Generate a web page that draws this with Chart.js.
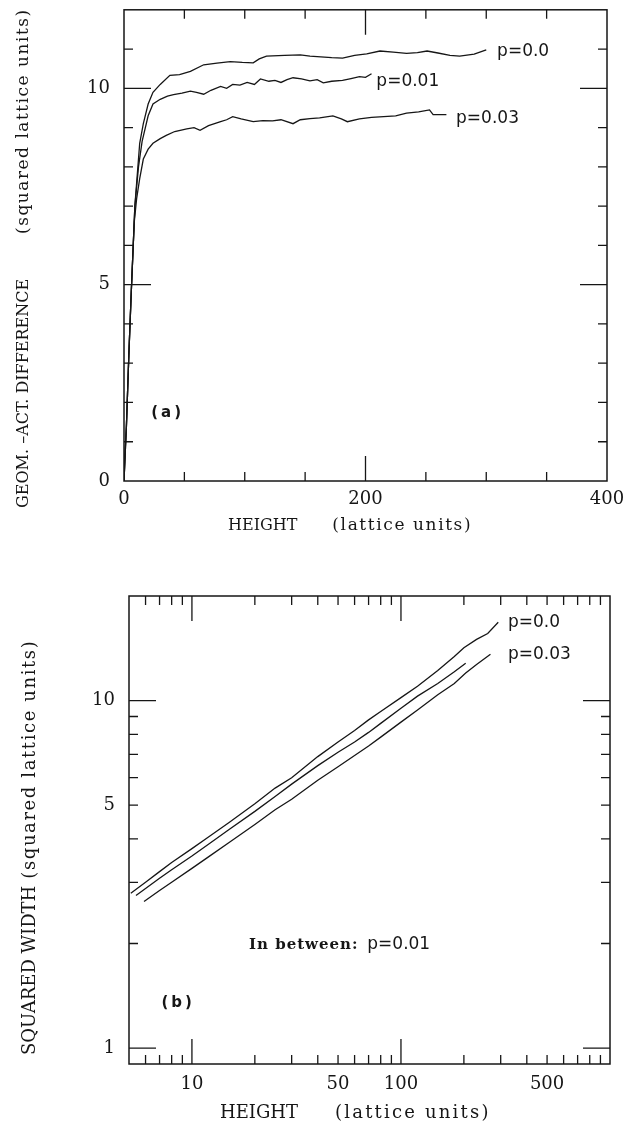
<!DOCTYPE html>
<html>
<head>
<meta charset="utf-8">
<script src="https://cdn.jsdelivr.net/npm/chart.js@4.4.1/dist/chart.umd.min.js"></script>
<style>
  html, body { margin: 0; padding: 0; background: #fff; }
  #wrap { position: relative; width: 633px; height: 1122px; overflow: hidden; }
  canvas { position: absolute; left: 0; }
  #chartA { top: -15px; }
  #chartB { top: 560px; }
</style>
</head>
<body>
<div id="wrap">
  <canvas id="chartA" width="633" height="575"></canvas>
  <canvas id="chartB" width="633" height="562"></canvas>
</div>
<script>
// ---- panel (a): geometric minus actual difference vs height ----
const heightA0 = [0, 1, 2, 4, 6, 9, 13, 16, 20, 24, 30, 38, 46, 55, 66, 77, 88, 98, 107, 112, 118, 133, 146, 154, 163, 172, 181, 191, 201, 212, 223, 234, 243, 251, 260, 270, 278, 290, 300];
const diffA0 = [0, 0.8, 1.4, 3.2, 4.8, 7.0, 8.6, 9.1, 9.6, 9.9, 10.1, 10.33, 10.35, 10.43, 10.6, 10.64, 10.68, 10.66, 10.65, 10.75, 10.82, 10.84, 10.85, 10.82, 10.8, 10.78, 10.77, 10.84, 10.88, 10.95, 10.92, 10.89, 10.91, 10.95, 10.9, 10.84, 10.82, 10.87, 10.98];

const heightA1 = [0, 2, 4, 6, 9, 12, 15, 20, 24, 30, 36, 41, 48, 55, 60, 66, 72, 80, 85, 90, 96, 102, 108, 113, 120, 125, 130, 135, 140, 147, 154, 160, 165, 172, 181, 188, 195, 200, 205];
const diffA1 = [0, 1.4, 3.2, 4.8, 7.0, 8.0, 8.65, 9.3, 9.6, 9.72, 9.8, 9.84, 9.88, 9.93, 9.9, 9.85, 9.95, 10.05, 10.0, 10.1, 10.08, 10.15, 10.1, 10.24, 10.18, 10.2, 10.15, 10.22, 10.27, 10.24, 10.19, 10.22, 10.14, 10.18, 10.2, 10.25, 10.3, 10.28, 10.37];

const heightA3 = [0, 2, 4, 6, 8.5, 10.5, 13, 16, 20, 24, 30, 35, 42, 52, 58, 63, 70, 80, 85, 90, 97, 107, 115, 123, 130, 140, 146, 154, 162, 173, 180, 185, 195, 205, 215, 225, 234, 244, 253, 256, 260, 267];
const diffA3 = [0, 1.4, 3.2, 4.8, 6.6, 7.2, 7.7, 8.2, 8.45, 8.6, 8.72, 8.8, 8.9, 8.97, 9.0, 8.93, 9.05, 9.15, 9.2, 9.28, 9.22, 9.15, 9.18, 9.17, 9.2, 9.1, 9.2, 9.23, 9.25, 9.3, 9.22, 9.15, 9.22, 9.26, 9.28, 9.3, 9.37, 9.4, 9.45, 9.33, 9.33, 9.33];

// ---- panel (b): squared width vs height, log-log ----
const heightB0 = [5.1, 6, 7, 8, 10, 12, 15, 20, 25, 30, 40, 50, 60, 70, 80, 100, 120, 150, 180, 200, 230, 260, 292];
const widthB0 = [2.79, 3.0, 3.22, 3.42, 3.75, 4.05, 4.45, 5.05, 5.6, 6.0, 6.9, 7.6, 8.2, 8.8, 9.3, 10.2, 11.0, 12.2, 13.4, 14.2, 15.0, 15.6, 16.8];

const heightB1 = [5.4, 6, 7, 8, 10, 12, 15, 20, 25, 30, 40, 50, 60, 70, 80, 100, 120, 150, 180, 204];
const widthB1 = [2.75, 2.88, 3.08, 3.26, 3.57, 3.86, 4.25, 4.8, 5.3, 5.75, 6.5, 7.1, 7.6, 8.1, 8.6, 9.5, 10.3, 11.2, 12.1, 12.8];

const heightB3 = [5.9, 7, 8, 10, 12, 15, 20, 25, 30, 40, 50, 60, 70, 80, 100, 120, 150, 180, 204, 230, 268];
const widthB3 = [2.64, 2.84, 3.0, 3.29, 3.55, 3.9, 4.4, 4.85, 5.2, 5.9, 6.45, 6.95, 7.4, 7.85, 8.67, 9.4, 10.4, 11.2, 12.0, 12.7, 13.6];

// tick values
const labelTicksAX = [0, 200, 400];
const majorTicksAX = [200];
const minorTicksAX = [50, 100, 150, 250, 300, 350];
const labelTicksAY = [0, 5, 10];
const majorTicksAY = [5, 10];
const minorTicksAY = [1, 2, 3, 4, 6, 7, 8, 9, 11];

const labelTicksBX = [10, 50, 100, 500];
const majorTicksBX = [10, 100];
const minorTicksBX = [6, 7, 8, 9, 20, 30, 40, 50, 60, 70, 80, 90, 200, 300, 400, 500, 600, 700, 800, 900];
const labelTicksBY = [1, 5, 10];
const majorTicksBY = [1, 10];
const minorTicksBY = [2, 3, 4, 5, 6, 7, 8, 9];

const ink = '#161616';
const serif = 'DejaVu Serif';
const sans = 'DejaVu Sans';

const pts = (xs, ys) => xs.map((x, i) => ({ x, y: ys[i] }));

function curve(xs, ys) {
  return { data: pts(xs, ys), borderColor: ink, borderWidth: 1.3, pointRadius: 0, tension: 0, fill: false };
}

// frame and inward tick marks on all four sides
function frameTicks(t) {
  return {
    id: 'frameTicks',
    afterDatasetsDraw(chart) {
      const { ctx, chartArea: a, scales: { x, y } } = chart;
      ctx.save();
      ctx.strokeStyle = ink;
      ctx.lineWidth = 1.5;
      ctx.strokeRect(a.left, a.top, a.right - a.left, a.bottom - a.top);
      ctx.lineWidth = 1.3;
      ctx.beginPath();
      const xMarks = (vals, len) => vals.forEach(v => {
        const px = x.getPixelForValue(v);
        ctx.moveTo(px, a.bottom); ctx.lineTo(px, a.bottom - len);
        ctx.moveTo(px, a.top); ctx.lineTo(px, a.top + len);
      });
      const yMarks = (vals, len) => vals.forEach(v => {
        const py = y.getPixelForValue(v);
        ctx.moveTo(a.left, py); ctx.lineTo(a.left + len, py);
        ctx.moveTo(a.right, py); ctx.lineTo(a.right - len, py);
      });
      xMarks(t.xMinor, 9); xMarks(t.xMajor, 25);
      yMarks(t.yMinor, 9); yMarks(t.yMajor, 27);
      ctx.stroke();
      ctx.restore();
    }
  };
}

// text notes placed in data coordinates
function notes(list) {
  return {
    id: 'notes',
    afterDatasetsDraw(chart) {
      const { ctx, scales: { x, y } } = chart;
      ctx.save();
      ctx.fillStyle = ink;
      ctx.textBaseline = 'middle';
      ctx.textAlign = 'left';
      list.forEach(n => {
        ctx.font = n.font;
        ctx.letterSpacing = n.spacing || '0px';
        ctx.fillText(n.text, x.getPixelForValue(n.x), y.getPixelForValue(n.y));
      });
      ctx.letterSpacing = '0px';
      ctx.restore();
    }
  };
}

// axis titles: runs of text laid one after another with a gap between them
function axisTitles(list) {
  return {
    id: 'axisTitles',
    afterDraw(chart) {
      const { ctx } = chart;
      ctx.save();
      ctx.fillStyle = ink;
      ctx.textBaseline = 'middle';
      ctx.textAlign = 'left';
      list.forEach(t => {
        ctx.save();
        ctx.translate(t.x, t.y);
        if (t.vertical) ctx.rotate(-Math.PI / 2);
        let pos = 0;
        t.runs.forEach(r => {
          ctx.font = r.font;
          ctx.letterSpacing = r.spacing || '0px';
          ctx.fillText(r.text, pos, 0);
          pos += ctx.measureText(r.text).width + t.gap;
        });
        ctx.letterSpacing = '0px';
        ctx.restore();
      });
      ctx.restore();
    }
  };
}

function axis(type, min, max, labels, fit, pad) {
  return {
    type, min, max,
    afterBuildTicks: s => { s.ticks = labels.map(v => ({ value: v })); },
    afterFit: fit,
    grid: { display: false, drawTicks: false },
    border: { display: false },
    ticks: {
      autoSkip: false, maxRotation: 0, color: ink, padding: pad,
      font: { family: serif, size: 18 },
      callback: v => String(v)
    },
    title: { display: false }
  };
}

const common = {
  responsive: false,
  animation: false,
  plugins: { legend: { display: false }, tooltip: { enabled: false } }
};

new Chart(document.getElementById('chartA'), {
  type: 'line',
  data: { datasets: [curve(heightA0, diffA0), curve(heightA1, diffA1), curve(heightA3, diffA3)] },
  options: {
    ...common,
    layout: { padding: { top: 0, right: 26, left: 0, bottom: 0 } },
    scales: {
      x: axis('linear', 0, 400, labelTicksAX, s => { s.height = 79; }, 8),
      y: axis('linear', 0, 12, labelTicksAY, s => { s.width = 124; }, 14)
    }
  },
  plugins: [
    frameTicks({ xMajor: majorTicksAX, xMinor: minorTicksAX, yMajor: majorTicksAY, yMinor: minorTicksAY }),
    notes([
      { text: 'p=0.0', x: 309, y: 10.94, font: `17px ${sans}` },
      { text: 'p=0.01', x: 209, y: 10.17, font: `17px ${sans}` },
      { text: 'p=0.03', x: 275, y: 9.24, font: `17px ${sans}` },
      { text: '(a)', x: 22.5, y: 1.74, font: `bold 15px ${sans}`, spacing: '3px' }
    ]),
    axisTitles([
      { x: 228, y: 541, gap: 35, runs: [
        { text: 'HEIGHT', font: `16px ${serif}` },
        { text: '(lattice units)', font: `17px ${serif}`, spacing: '1.6px' }
      ] },
      { x: 24, y: 523, vertical: true, gap: 45, runs: [
        { text: 'GEOM. \u2013ACT. DIFFERENCE', font: `16px ${serif}` },
        { text: '(squared lattice units)', font: `17px ${serif}`, spacing: '1.5px' }
      ] }
    ])
  ]
});

new Chart(document.getElementById('chartB'), {
  type: 'line',
  data: { datasets: [curve(heightB0, widthB0), curve(heightB1, widthB1), curve(heightB3, widthB3)] },
  options: {
    ...common,
    layout: { padding: { top: 36, right: 23, left: 0, bottom: 0 } },
    scales: {
      x: axis('logarithmic', 5, 1000, labelTicksBX, s => { s.height = 58; }, 10),
      y: axis('logarithmic', 0.9, 20, labelTicksBY, s => { s.width = 129; }, 14)
    }
  },
  plugins: [
    frameTicks({ xMajor: majorTicksBX, xMinor: minorTicksBX, yMajor: majorTicksBY, yMinor: minorTicksBY }),
    notes([
      { text: 'p=0.0', x: 325, y: 16.8, font: `17px ${sans}` },
      { text: 'p=0.03', x: 325, y: 13.6, font: `17px ${sans}` },
      { text: 'In between:', x: 18.75, y: 1.98, font: `bold 15px ${serif}`, spacing: '1px' },
      { text: 'p=0.01', x: 69, y: 1.98, font: `17px ${sans}` },
      { text: '(b)', x: 7.15, y: 1.35, font: `bold 15px ${sans}`, spacing: '3px' }
    ]),
    axisTitles([
      { x: 220, y: 553, gap: 37, runs: [
        { text: 'HEIGHT', font: `18px ${serif}` },
        { text: '(lattice units)', font: `18px ${serif}`, spacing: '2.2px' }
      ] },
      { x: 30, y: 495, vertical: true, gap: 7, runs: [
        { text: 'SQUARED WIDTH', font: `18px ${serif}` },
        { text: '(squared lattice units)', font: `18px ${serif}`, spacing: '1.6px' }
      ] }
    ])
  ]
});
</script>
</body>
</html>
